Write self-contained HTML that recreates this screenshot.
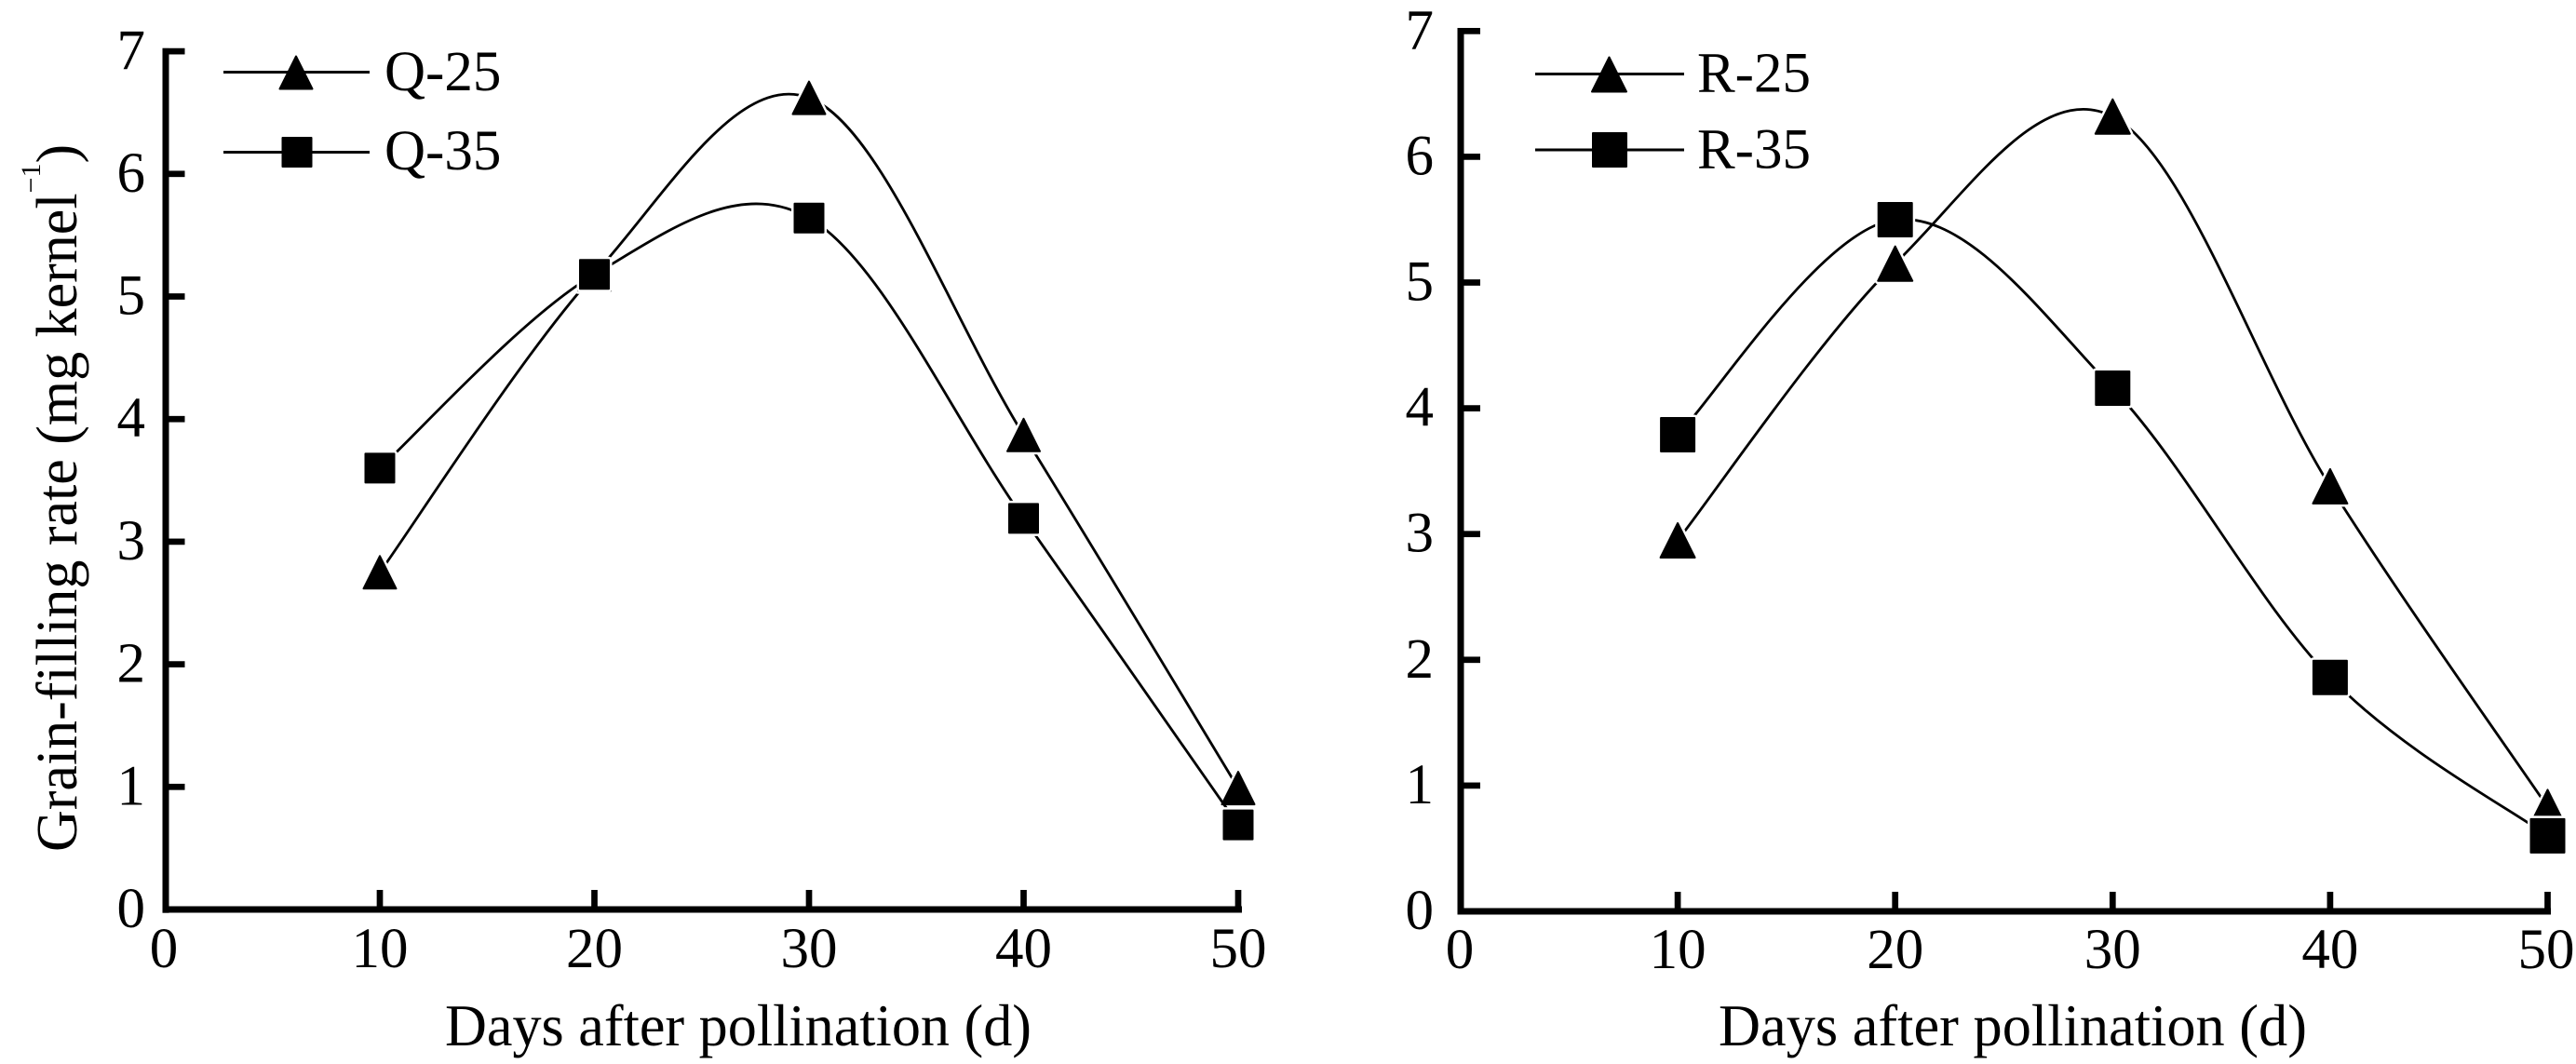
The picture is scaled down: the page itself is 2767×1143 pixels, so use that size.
<!DOCTYPE html>
<html>
<head>
<meta charset="utf-8">
<style>
  html, body { margin: 0; padding: 0; background: #ffffff; }
  svg { display: block; }
  .w { fill: #fff; stroke: #fff; stroke-width: 7; stroke-linejoin: round; }
  .b { fill: #000; stroke: #000; stroke-width: 2; stroke-linejoin: round; }
  .ln { fill: none; stroke: #000; stroke-width: 2.8; }
  text { font-family: "Liberation Serif", "Times New Roman", serif; fill: #000; }
</style>
</head>
<body>
<svg width="2767" height="1143" viewBox="0 0 2767 1143" xmlns="http://www.w3.org/2000/svg">
  <defs>
    <polygon id="triL" points="0,-17.5 17.5,17.5 -17.5,17.5"/>
    <rect id="sqL" x="-15.5" y="-15.5" width="31" height="31"/>
    <polygon id="triR" points="0,-18.5 18.5,18.5 -18.5,18.5"/>
    <rect id="sqR" x="-18" y="-18" width="36" height="36"/>
  </defs>
  <rect x="0" y="0" width="2767" height="1143" fill="#fff"/>

  <!-- ================= LEFT CHART ================= -->
  <!-- axes -->
  <rect x="174.5" y="51.7" width="7" height="929" fill="#000"/>
  <rect x="174.5" y="973.5" width="1159.5" height="7" fill="#000"/>
  <!-- y ticks -->
  <rect x="181.5" y="841.95" width="17" height="6.7" fill="#000"/>
  <rect x="181.5" y="710.25" width="17" height="6.7" fill="#000"/>
  <rect x="181.5" y="578.55" width="17" height="6.7" fill="#000"/>
  <rect x="181.5" y="446.85" width="17" height="6.7" fill="#000"/>
  <rect x="181.5" y="315.15" width="17" height="6.7" fill="#000"/>
  <rect x="181.5" y="183.45" width="17" height="6.7" fill="#000"/>
  <rect x="181.5" y="51.75" width="17" height="6.7" fill="#000"/>
  <!-- x ticks -->
  <rect x="404.65" y="956" width="6.7" height="18" fill="#000"/>
  <rect x="635.15" y="956" width="6.7" height="18" fill="#000"/>
  <rect x="865.65" y="956" width="6.7" height="18" fill="#000"/>
  <rect x="1096.15" y="956" width="6.7" height="18" fill="#000"/>
  <rect x="1326.65" y="956" width="6.7" height="18" fill="#000"/>

  <!-- y tick labels -->
  <g font-size="61" text-anchor="end">
    <text x="156" y="996">0</text>
    <text x="156" y="864.3">1</text>
    <text x="156" y="732.6">2</text>
    <text x="156" y="600.9">3</text>
    <text x="156" y="469.2">4</text>
    <text x="156" y="337.5">5</text>
    <text x="156" y="205.8">6</text>
    <text x="156" y="74.1">7</text>
  </g>
  <!-- x tick labels -->
  <g font-size="61" text-anchor="middle">
    <text x="176" y="1039">0</text>
    <text x="408" y="1039">10</text>
    <text x="638.5" y="1039">20</text>
    <text x="869" y="1039">30</text>
    <text x="1099.5" y="1039">40</text>
    <text x="1330" y="1039">50</text>
  </g>
  <!-- x title -->
  <text x="793" y="1123" font-size="63" text-anchor="middle" textLength="630" lengthAdjust="spacingAndGlyphs">Days after pollination (d)</text>
  <!-- y title -->
  <text transform="translate(82,915) rotate(-90)" font-size="62" x="0" y="0">Grain-filling rate (mg kernel<tspan font-size="30" dy="-39">−1</tspan><tspan dy="39" font-size="62">)</tspan></text>

  <!-- legend left -->
  <line x1="240" y1="77.5" x2="397" y2="77.5" stroke="#000" stroke-width="3"/>
  <use href="#triL" x="318" y="78" class="b"/>
  <line x1="240" y1="163.5" x2="397" y2="163.5" stroke="#000" stroke-width="3"/>
  <use href="#sqL" x="319" y="163.5" class="b"/>
  <text x="413" y="97" font-size="61">Q-25</text>
  <text x="413" y="182" font-size="61">Q-35</text>

  <!-- Q-25 -->
  <path class="ln" d="M408,614.8 C446.4,561.5 561.7,379.7 638.5,294.8 C715.3,209.8 792.2,76.35 869,105.1 C945.8,133.85 1022.7,343.7 1099.5,467.3 C1176.3,590.9 1291.6,783.4 1330,846.6"/>
  <g>
    <use href="#triL" x="408" y="614.8" class="w"/><use href="#triL" x="408" y="614.8" class="b"/>
    <use href="#triL" x="638.5" y="294.8" class="w"/><use href="#triL" x="638.5" y="294.8" class="b"/>
    <use href="#triL" x="869" y="105.1" class="w"/><use href="#triL" x="869" y="105.1" class="b"/>
    <use href="#triL" x="1099.5" y="467.3" class="w"/><use href="#triL" x="1099.5" y="467.3" class="b"/>
    <use href="#triL" x="1330" y="846.6" class="w"/><use href="#triL" x="1330" y="846.6" class="b"/>
  </g>
  <!-- Q-35 -->
  <path class="ln" d="M408,502.9 C446.4,468.2 561.7,339.6 638.5,294.8 C715.3,250 792.2,190.5 869,234.2 C945.8,277.9 1022.7,448.25 1099.5,556.9 C1176.3,665.55 1291.6,831.2 1330,886.1"/>
  <g>
    <use href="#sqL" x="408" y="502.9" class="w"/><use href="#sqL" x="408" y="502.9" class="b"/>
    <use href="#sqL" x="638.5" y="294.8" class="w"/><use href="#sqL" x="638.5" y="294.8" class="b"/>
    <use href="#sqL" x="869" y="234.2" class="w"/><use href="#sqL" x="869" y="234.2" class="b"/>
    <use href="#sqL" x="1099.5" y="556.9" class="w"/><use href="#sqL" x="1099.5" y="556.9" class="b"/>
    <use href="#sqL" x="1330" y="886.1" class="w"/><use href="#sqL" x="1330" y="886.1" class="b"/>
  </g>

  <!-- ================= RIGHT CHART ================= -->
  <rect x="1565.5" y="30" width="7" height="952.5" fill="#000"/>
  <rect x="1565.5" y="975.5" width="1174.5" height="7" fill="#000"/>
  <!-- y ticks -->
  <rect x="1572.5" y="840.55" width="17.5" height="6.7" fill="#000"/>
  <rect x="1572.5" y="705.45" width="17.5" height="6.7" fill="#000"/>
  <rect x="1572.5" y="570.35" width="17.5" height="6.7" fill="#000"/>
  <rect x="1572.5" y="435.25" width="17.5" height="6.7" fill="#000"/>
  <rect x="1572.5" y="300.15" width="17.5" height="6.7" fill="#000"/>
  <rect x="1572.5" y="165.05" width="17.5" height="6.7" fill="#000"/>
  <rect x="1572.5" y="30" width="17.5" height="6.7" fill="#000"/>
  <!-- x ticks -->
  <rect x="1798.75" y="958" width="6.7" height="18" fill="#000"/>
  <rect x="2032.35" y="958" width="6.7" height="18" fill="#000"/>
  <rect x="2265.95" y="958" width="6.7" height="18" fill="#000"/>
  <rect x="2499.55" y="958" width="6.7" height="18" fill="#000"/>
  <rect x="2733.15" y="958" width="6.7" height="18" fill="#000"/>

  <g font-size="61" text-anchor="end">
    <text x="1540" y="998">0</text>
    <text x="1540" y="862.9">1</text>
    <text x="1540" y="727.8">2</text>
    <text x="1540" y="592.7">3</text>
    <text x="1540" y="457.6">4</text>
    <text x="1540" y="322.5">5</text>
    <text x="1540" y="187.4">6</text>
    <text x="1540" y="52.3">7</text>
  </g>
  <g font-size="61" text-anchor="middle">
    <text x="1568" y="1040">0</text>
    <text x="1802.1" y="1040">10</text>
    <text x="2035.7" y="1040">20</text>
    <text x="2269.3" y="1040">30</text>
    <text x="2502.9" y="1040">40</text>
    <text x="2735" y="1040">50</text>
  </g>
  <text x="2162" y="1123" font-size="63" text-anchor="middle" textLength="632" lengthAdjust="spacingAndGlyphs">Days after pollination (d)</text>

  <!-- legend right -->
  <line x1="1649" y1="79.5" x2="1809" y2="79.5" stroke="#000" stroke-width="3"/>
  <use href="#triR" x="1728.5" y="80" class="b"/>
  <line x1="1649" y1="161" x2="1809" y2="161" stroke="#000" stroke-width="3"/>
  <use href="#sqR" x="1729" y="161" class="b"/>
  <text x="1823" y="98.5" font-size="61">R-25</text>
  <text x="1823" y="180.5" font-size="61">R-35</text>

  <!-- R-25 -->
  <path class="ln" d="M1802.1,580.5 C1841,530.95 1957.8,359.1 2035.7,283.2 C2113.6,207.3 2191.4,85.33 2269.3,125.2 C2347.2,165.07 2425,398.8 2502.9,522.4 C2580.8,646 2697.6,809.5 2736.5,866.9"/>
  <g>
    <use href="#triR" x="1802.1" y="580.5" class="w"/><use href="#triR" x="1802.1" y="580.5" class="b"/>
    <use href="#triR" x="2035.7" y="283.2" class="w"/><use href="#triR" x="2035.7" y="283.2" class="b"/>
    <use href="#triR" x="2269.3" y="125.2" class="w"/><use href="#triR" x="2269.3" y="125.2" class="b"/>
    <use href="#triR" x="2502.9" y="522.4" class="w"/><use href="#triR" x="2502.9" y="522.4" class="b"/>
    <use href="#triR" x="2736.5" y="866.9" class="w"/><use href="#triR" x="2736.5" y="866.9" class="b"/>
  </g>
  <!-- R-35 -->
  <path class="ln" d="M1802.1,467 C1841,428.5 1957.8,244.3 2035.7,236 C2113.6,227.7 2191.4,335.05 2269.3,417 C2347.2,498.95 2425,647.55 2502.9,727.7 C2580.8,807.85 2697.6,869.5 2736.5,897.9"/>
  <g>
    <use href="#sqR" x="1802.1" y="467" class="w"/><use href="#sqR" x="1802.1" y="467" class="b"/>
    <use href="#sqR" x="2035.7" y="236" class="w"/><use href="#sqR" x="2035.7" y="236" class="b"/>
    <use href="#sqR" x="2269.3" y="417" class="w"/><use href="#sqR" x="2269.3" y="417" class="b"/>
    <use href="#sqR" x="2502.9" y="727.7" class="w"/><use href="#sqR" x="2502.9" y="727.7" class="b"/>
    <use href="#sqR" x="2736.5" y="897.9" class="w"/><use href="#sqR" x="2736.5" y="897.9" class="b"/>
  </g>
</svg>
</body>
</html>
